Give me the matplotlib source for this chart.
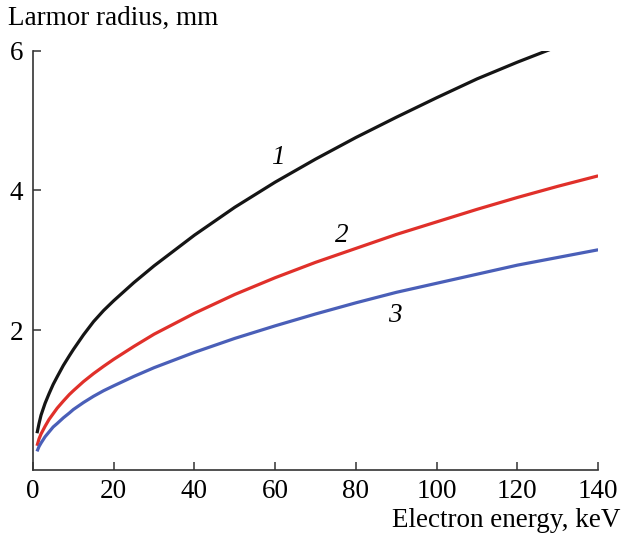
import matplotlib
matplotlib.use('Agg')
import matplotlib.pyplot as plt

# values
energy_1 = [1, 1.5, 2, 3, 4, 5, 6, 7.5, 9, 10, 12.5, 15, 17.5, 20, 25, 30, 40, 50, 60, 70,
            80, 90, 100, 110, 120, 128]
radius_1 = [0.52, 0.66, 0.78, 0.95, 1.09, 1.22, 1.33, 1.49, 1.63, 1.72, 1.93, 2.12, 2.28,
            2.42, 2.68, 2.92, 3.36, 3.76, 4.12, 4.45, 4.76, 5.05, 5.33, 5.60, 5.84, 6.02]

energy_23 = [1, 1.5, 2, 3, 4, 5, 6, 7.5, 9, 10, 12.5, 15, 17.5, 20, 25, 30, 40, 50, 60, 70,
             80, 90, 100, 110, 120, 130, 140]
radius_2 = [0.34, 0.44, 0.51, 0.62, 0.72, 0.80, 0.88, 0.98, 1.075, 1.13, 1.26, 1.375, 1.48,
            1.58, 1.765, 1.94, 2.24, 2.51, 2.75, 2.97, 3.17, 3.37, 3.55, 3.73, 3.90, 4.06, 4.21]
radius_3 = [0.26, 0.33, 0.38, 0.47, 0.54, 0.61, 0.66, 0.74, 0.81, 0.86, 0.96, 1.05, 1.13,
            1.20, 1.335, 1.46, 1.68, 1.88, 2.06, 2.23, 2.39, 2.54, 2.67, 2.80, 2.93, 3.04, 3.15]

labels = ['1', '2', '3']
label_pos = [(60.7, 4.47), (76.5, 3.36), (89.7, 2.21)]

x_ticks = [0, 20, 40, 60, 80, 100, 120, 140]
y_ticks = [2, 4, 6]

plt.rcParams['font.family'] = ['Liberation Serif', 'DejaVu Serif']

fig = plt.figure(figsize=(6.27, 5.35), dpi=100)
ax = fig.add_axes([0.0526, 0.1224, 0.9014, 0.7823])

ax.plot(energy_1, radius_1, color='#151515', lw=2.3, solid_capstyle='butt')
ax.plot(energy_23, radius_2, color='#e0302a', lw=2.3, solid_capstyle='butt')
ax.plot(energy_23, radius_3, color='#4a5fb8', lw=2.3, solid_capstyle='butt')

for lab, (x, y) in zip(labels, label_pos):
    ax.text(x, y, lab, fontsize=19.5, style='italic', ha='center', va='center')

ax.set_xlim(0, 140)
ax.set_ylim(0, 6)
ax.set_xticks(x_ticks)
ax.set_yticks(y_ticks)
ax.tick_params(direction='in', length=6, width=1.1, color='#333333', labelsize=19.5, pad=7)
for s in ['top', 'right']:
    ax.spines[s].set_visible(False)
for s in ['left', 'bottom']:
    ax.spines[s].set_linewidth(1.2)
    ax.spines[s].set_color('#333333')

fig.text(0.012, 0.966, 'Larmor radius, mm', fontsize=19.5, ha='left', va='center')
fig.text(0.99, 0.028, 'Electron energy, keV', fontsize=19.5, ha='right', va='center')

fig.savefig('out.png', dpi=100)
